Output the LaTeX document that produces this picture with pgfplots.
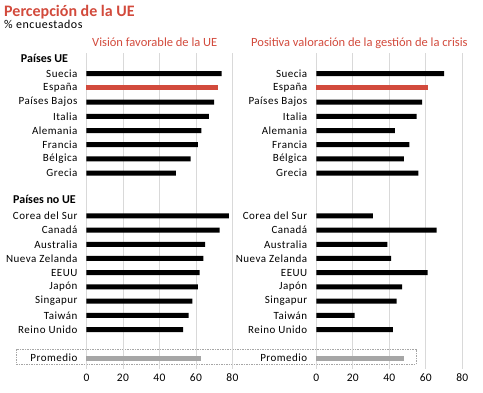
\documentclass[border=0pt]{standalone}
\usepackage{pgfplots}
\pgfplotsset{compat=1.18}
\usepackage{fontspec}
\setmainfont{Carlito}
\newfontfamily\lab[LetterSpace=4.5]{Carlito}
\newfontfamily\labb[LetterSpace=3]{Carlito}
\definecolor{cred}{RGB}{210,74,60}
\definecolor{cgray}{RGB}{166,166,166}
\definecolor{cgrid}{RGB}{217,217,217}
\pgfplotsset{panel/.style={
  scale only axis, width=146pt, height=316.4pt,
  xmin=0, xmax=80, ymin=-1.45, ymax=20.8, y dir=reverse,
  xbar, bar width=5pt, bar shift=0pt,
  axis line style={draw=none},
  xmajorgrids, grid style={cgrid, line width=0.8pt},
  xtick={0,20,40,60,80}, major tick length=0pt,
  ytick={0,1,2,3,4,5,6,7,10,11,12,13,14,15,16,17,18,20},
  yticklabels={Suecia,España,Países Bajos,Italia,Alemania,Francia,Bélgica,Grecia,Corea del Sur,Canadá,Australia,Nueva Zelanda,EEUU,Japón,Singapur,Taiwán,Reino Unido,Promedio},
  xticklabel style={font=\labb\fontsize{11.5}{13}\selectfont, yshift=-1pt},
  yticklabel style={font=\lab\fontsize{11}{13}\selectfont, xshift=-5.5pt},
  /pgf/number format/assume math mode=true,
  clip=false, anchor=north west,
}}
\begin{document}
\begin{tikzpicture}
\path[use as bounding box] (0,0) rectangle (483pt,-392pt);
\node[anchor=base west, inner sep=0, text=cred, font=\fontsize{16}{18}\selectfont\bfseries] at (4pt,-16pt) {Percepción de la UE};
\node[anchor=base west, inner sep=0, font=\lab\fontsize{12}{14}\selectfont] at (4pt,-28.5pt) {\% encuestados};
\node[anchor=base west, inner sep=0, text=cred, font=\fontsize{12.5}{14}\selectfont] at (92pt,-46.5pt) {Visión favorable de la UE};
\node[anchor=base west, inner sep=0, text=cred, font=\fontsize{12.5}{14}\selectfont] at (251pt,-46.5pt) {Positiva valoración de la gestión de la crisis};
\node[inner sep=0, font=\fontsize{12}{14}\selectfont\bfseries] at (44.5pt,-58pt) {Países UE};
\node[inner sep=0, font=\fontsize{12}{14}\selectfont\bfseries] at (44.5pt,-199.5pt) {Países no UE};
\draw[gray!70, line width=0.7pt, dash pattern=on 1.5pt off 1pt] (16.7pt,-349pt) rectangle (416pt,-364.5pt);

\begin{axis}[panel, at={(86.5pt,-53pt)}]
\addplot[fill=black, draw=none] coordinates {
(74,0) (70,2) (67,3) (63,4) (61,5) (57,6) (49,7)
(78,10) (73,11) (65,12) (64,13) (62,14) (61,15) (58,16) (56,17) (53,18)};
\addplot[fill=cred, draw=none] coordinates {(72,1)};
\addplot[fill=cgray, draw=none] coordinates {(63,20)};
\end{axis}

\begin{axis}[panel, at={(316.3pt,-53pt)}]
\addplot[fill=black, draw=none] coordinates {
(70,0) (58,2) (55,3) (43,4) (51,5) (48,6) (56,7)
(31,10) (66,11) (39,12) (41,13) (61,14) (47,15) (44,16) (21,17) (42,18)};
\addplot[fill=cred, draw=none] coordinates {(61,1)};
\addplot[fill=cgray, draw=none] coordinates {(48,20)};
\end{axis}
\end{tikzpicture}
\end{document}
